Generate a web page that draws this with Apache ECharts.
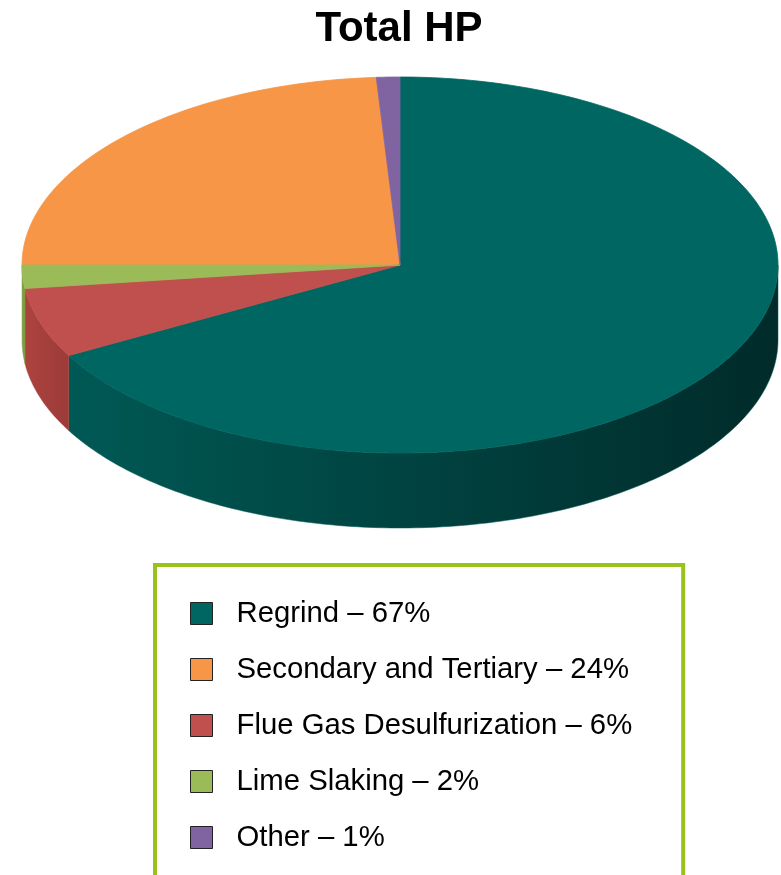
<!DOCTYPE html>
<html>
<head>
<meta charset="utf-8">
<title>Total HP</title>
<script src="https://cdn.jsdelivr.net/npm/echarts@6/dist/echarts.min.js"></script>
<style>
html, body { margin: 0; padding: 0; background: #fff; }
#totalHp { width: 781px; height: 875px; }
</style>
</head>
<body>
<div id="totalHp"></div>
<script>
// chart data (legend order)
var categories = ['Regrind', 'Secondary and Tertiary', 'Flue Gas Desulfurization', 'Lime Slaking', 'Other'];
var shares = [67, 24, 6, 2, 1];
// order of the slices going clockwise from 12 o'clock
var sliceOrder = [0, 2, 3, 1, 4];

// colours: top face / side wall (light -> dark)
var topColors = ['#006661', '#f69646', '#c0504d', '#9bbb59', '#8064a2'];
var sideColors = [['#005955', '#002b2a'], ['#c8702c', '#a05a20'], ['#ad433f', '#9c3b38'], ['#86a548', '#7a963f'], ['#6a5289', '#5c4778']];

// ellipse layout of the tilted pie
var pie = { cx: 400, cy: 265, rx: 378, ry: 188, depth: 75 };

// clockwise angle spans (degrees from 12 o'clock), indexed like categories
var total = shares.reduce(function (a, b) { return a + b; }, 0);
var spans = [];
var acc = 0;
sliceOrder.forEach(function (idx) {
  var s = acc / total * 360;
  acc += shares[idx];
  spans[idx] = [s, acc / total * 360];
});

function pt(phi, dy) {
  var r = phi * Math.PI / 180;
  return [pie.cx + pie.rx * Math.sin(r), pie.cy - pie.ry * Math.cos(r) + (dy || 0)];
}

function arc(a, b, dy) {
  var pts = [];
  var n = Math.max(2, Math.ceil(Math.abs(b - a)));
  for (var k = 0; k <= n; k++) {
    pts.push(pt(a + (b - a) * k / n, dy));
  }
  return pts;
}

function renderSlice(params, api) {
  var i = params.seriesIndex;
  var s = spans[i][0], e = spans[i][1];
  var children = [];
  // front wall, only the part facing the viewer
  var a = Math.max(s, 90), b = Math.min(e, 270);
  if (b > a) {
    var wall = arc(a, b, 0).concat(arc(b, a, pie.depth));
    children.push({
      type: 'polygon',
      shape: { points: wall },
      style: {
        fill: new echarts.graphic.LinearGradient(0, 0, 1, 0, [
          { offset: 0, color: sideColors[i][0] },
          { offset: 1, color: sideColors[i][1] }
        ]),
        stroke: sideColors[i][0],
        lineWidth: 0.5
      }
    });
  }
  // top face
  var face = [[pie.cx, pie.cy]].concat(arc(s, e, 0));
  children.push({
    type: 'polygon',
    shape: { points: face },
    style: { fill: topColors[i], stroke: topColors[i], lineWidth: 0.8 }
  });
  return { type: 'group', children: children };
}

var chart = echarts.init(document.getElementById('totalHp'));

var option = {
  animation: false,
  color: topColors,
  title: {
    text: 'Total HP',
    left: 399,
    top: 8,
    padding: 0,
    textAlign: 'center',
    textStyle: {
      fontFamily: 'Liberation Sans',
      fontSize: 42,
      fontWeight: 'bold',
      color: '#000'
    }
  },
  legend: {
    orient: 'vertical',
    left: 155,
    top: 565,
    height: 400,
    padding: [34, 51, 120, 35],
    borderColor: '#99c21c',
    borderWidth: 4,
    backgroundColor: '#fff',
    icon: 'rect',
    itemWidth: 22,
    itemHeight: 22,
    itemGap: 27,
    itemStyle: { borderColor: '#222', borderWidth: 1 },
    selectedMode: false,
    data: categories,
    formatter: function (name) {
      return name + ' \u2013 ' + shares[categories.indexOf(name)] + '%';
    },
    textStyle: {
      fontFamily: 'Liberation Sans',
      fontSize: 29.3,
      color: '#000',
      lineHeight: 22,
      padding: [0, 0, 0, 19]
    }
  },
  series: categories.map(function (name, i) {
    return {
      name: name,
      type: 'custom',
      coordinateSystem: 'none',
      silent: true,
      itemStyle: { color: topColors[i] },
      renderItem: renderSlice,
      data: [[shares[i]]]
    };
  })
};

chart.setOption(option);
window.onresize = chart.resize;
</script>
</body>
</html>
